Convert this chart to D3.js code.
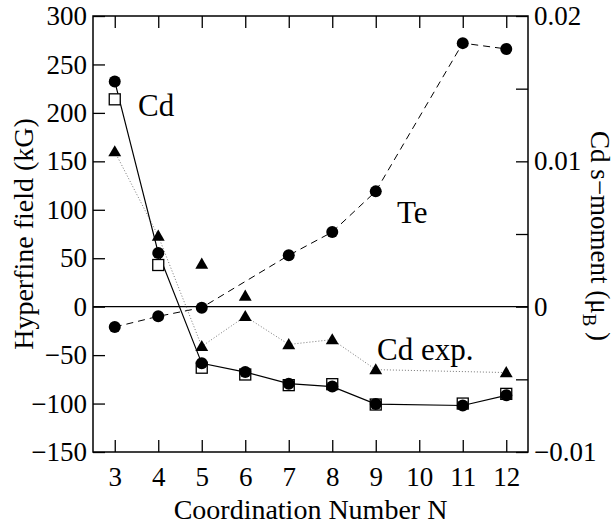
<!DOCTYPE html>
<html>
<head>
<meta charset="utf-8">
<script src="https://cdn.jsdelivr.net/npm/d3@7"></script>
<style>
  body { margin: 0; background: #fff; }
</style>
</head>
<body>
<div id="chart"></div>
<script>
const width = 615;
const height = 525;
const margin = { left: 93, right: 87, top: 16, bottom: 73 };
const serif = "Liberation Serif";

// coordination numbers
const cdN = [3, 4, 5, 6, 7, 8, 9, 11, 12];
// Cd hyperfine field (kG), open squares
const cdField = [214, 43, -63, -70, -81, -80, -101, -100, -90];
// Cd s-moment (muB), filled circles on the solid line
const cdMoment = [0.0155, 0.0037, -0.0039, -0.0045, -0.0053, -0.0055, -0.0067, -0.0068, -0.0061];
// Te hyperfine field (kG), dashed line
const teN = [3, 4, 5, 7, 8, 9, 11, 12];
const teField = [-21, -10, -1, 53, 77, 119, 272, 266];
// Cd experiment (kG), dotted line
const expN = [3, 4, 5, 6, 7, 8, 9, 12];
const expField = [160, 73, -41, -10, -39, -34, -65, -68];
// extra experimental values, no line
const expExtraN = [5, 6];
const expExtraField = [44, 11];

const xTicks = [3, 4, 5, 6, 7, 8, 9, 10, 11, 12];
const yTicks = [-150, -100, -50, 0, 50, 100, 150, 200, 250, 300];
const y2Ticks = [-0.01, -0.005, 0, 0.005, 0.01, 0.015, 0.02];
const y2Labels = ["-0.01", "", "0", "", "0.01", "", "0.02"];

const svg = d3
  .select("#chart")
  .append("svg")
  .attr("width", width)
  .attr("height", height);

const xScale = d3
  .scaleLinear()
  .domain([2.5, 12.5])
  .range([margin.left, width - margin.right]);
const yScale = d3
  .scaleLinear()
  .domain([-150, 300])
  .range([height - margin.bottom, margin.top]);
const y2Scale = d3
  .scaleLinear()
  .domain([-0.01, 0.02])
  .range([height - margin.bottom, margin.top]);

const tickLen = 12;
const tickFont = 27;
const minus = (s) => s.replace("-", "\u2212");

// axes, ticks pointing inward
svg
  .append("g")
  .attr("transform", `translate(0, ${height - margin.bottom})`)
  .call(d3.axisBottom(xScale).tickValues(xTicks).tickSize(-tickLen).tickPadding(12).tickFormat(d3.format("d")))
  .call((g) => g.select(".domain").remove())
  .call((g) => g.selectAll("text").attr("dy", "0.8em"));

svg
  .append("g")
  .attr("transform", `translate(0, ${margin.top})`)
  .call(d3.axisTop(xScale).tickValues(xTicks).tickSize(-tickLen).tickFormat(""))
  .call((g) => g.select(".domain").remove());

svg
  .append("g")
  .attr("transform", `translate(${margin.left}, 0)`)
  .call(d3.axisLeft(yScale).tickValues(yTicks).tickSize(-tickLen).tickPadding(6).tickFormat((d) => minus(String(d))))
  .call((g) => g.select(".domain").remove());

svg
  .append("g")
  .attr("transform", `translate(${width - margin.right}, 0)`)
  .call(d3.axisRight(y2Scale).tickValues(y2Ticks).tickSize(-tickLen).tickPadding(6).tickFormat((d, i) => minus(y2Labels[i])))
  .call((g) => g.select(".domain").remove());

svg.selectAll(".tick text").style("font-family", serif).style("font-size", tickFont + "px").attr("fill", "#000");
svg.selectAll(".tick line").attr("stroke", "#000").attr("stroke-width", 1.3);

// frame
svg
  .append("rect")
  .attr("x", margin.left)
  .attr("y", margin.top)
  .attr("width", width - margin.left - margin.right)
  .attr("height", height - margin.top - margin.bottom)
  .attr("fill", "none")
  .attr("stroke", "#000")
  .attr("stroke-width", 1.5);

// zero line
svg
  .append("line")
  .attr("x1", margin.left)
  .attr("x2", width - margin.right)
  .attr("y1", yScale(0))
  .attr("y2", yScale(0))
  .attr("stroke", "#000")
  .attr("stroke-width", 1.3);

const line = d3.line();

// Te dashed
svg
  .append("path")
  .attr("d", line(teN.map((n, i) => [xScale(n), yScale(teField[i])])))
  .attr("fill", "none")
  .attr("stroke", "#000")
  .attr("stroke-width", 1)
  .attr("stroke-dasharray", "7,5");

// exp dotted
svg
  .append("path")
  .attr("d", line(expN.map((n, i) => [xScale(n), yScale(expField[i])])))
  .attr("fill", "none")
  .attr("stroke", "#777")
  .attr("stroke-width", 1)
  .attr("stroke-dasharray", "1,2");

// Cd s-moment solid
svg
  .append("path")
  .attr("d", line(cdN.map((n, i) => [xScale(n), y2Scale(cdMoment[i])])))
  .attr("fill", "none")
  .attr("stroke", "#000")
  .attr("stroke-width", 1.2);

const tri = d3.symbol().type(d3.symbolTriangle).size(72);

svg
  .append("g")
  .selectAll("path")
  .data(expN.map((n, i) => [n, expField[i]]).concat(expExtraN.map((n, i) => [n, expExtraField[i]])))
  .join("path")
  .attr("transform", (d) => `translate(${xScale(d[0])}, ${yScale(d[1]) + 1})`)
  .attr("d", tri)
  .attr("fill", "#000");

svg
  .append("g")
  .selectAll("rect")
  .data(cdN.map((n, i) => [n, cdField[i]]))
  .join("rect")
  .attr("x", (d) => xScale(d[0]) - 5.5)
  .attr("y", (d) => yScale(d[1]) - 5.5)
  .attr("width", 11)
  .attr("height", 11)
  .attr("fill", "#fff")
  .attr("stroke", "#000")
  .attr("stroke-width", 1.3);

svg
  .append("g")
  .selectAll("circle")
  .data(cdN.map((n, i) => [n, cdMoment[i]]))
  .join("circle")
  .attr("cx", (d) => xScale(d[0]))
  .attr("cy", (d) => y2Scale(d[1]))
  .attr("r", 6)
  .attr("fill", "#000");

svg
  .append("g")
  .selectAll("circle")
  .data(teN.map((n, i) => [n, teField[i]]))
  .join("circle")
  .attr("cx", (d) => xScale(d[0]))
  .attr("cy", (d) => yScale(d[1]))
  .attr("r", 6)
  .attr("fill", "#000");

// series labels
const labels = [
  { text: "Cd", x: 138, y: 116 },
  { text: "Te", x: 397, y: 223 },
  { text: "Cd exp.", x: 377, y: 360 },
];
svg
  .selectAll(".series-label")
  .data(labels)
  .join("text")
  .attr("class", "series-label")
  .attr("x", (d) => d.x)
  .attr("y", (d) => d.y)
  .style("font-family", serif)
  .style("font-size", "31px")
  .text((d) => d.text);

// axis titles
const titleFont = "28px";
const midY = (margin.top + height - margin.bottom) / 2;

svg
  .append("text")
  .attr("x", (margin.left + width - margin.right) / 2)
  .attr("y", 519)
  .attr("text-anchor", "middle")
  .style("font-family", serif)
  .style("font-size", titleFont)
  .text("Coordination Number N");

svg
  .append("text")
  .attr("transform", `translate(33, ${midY}) rotate(-90)`)
  .attr("text-anchor", "middle")
  .style("font-family", serif)
  .style("font-size", titleFont)
  .text("Hyperfine field (kG)");

const rightTitle = svg
  .append("text")
  .attr("transform", `translate(591, ${midY + 2}) rotate(90)`)
  .attr("text-anchor", "middle")
  .style("font-family", serif)
  .style("font-size", "27px");
rightTitle.append("tspan").text("Cd s\u2212moment (\u03bc");
rightTitle.append("tspan").attr("dy", 8).style("font-size", "19px").text("B");
rightTitle.append("tspan").attr("dy", -8).text("\u2009)");
</script>
</body>
</html>
